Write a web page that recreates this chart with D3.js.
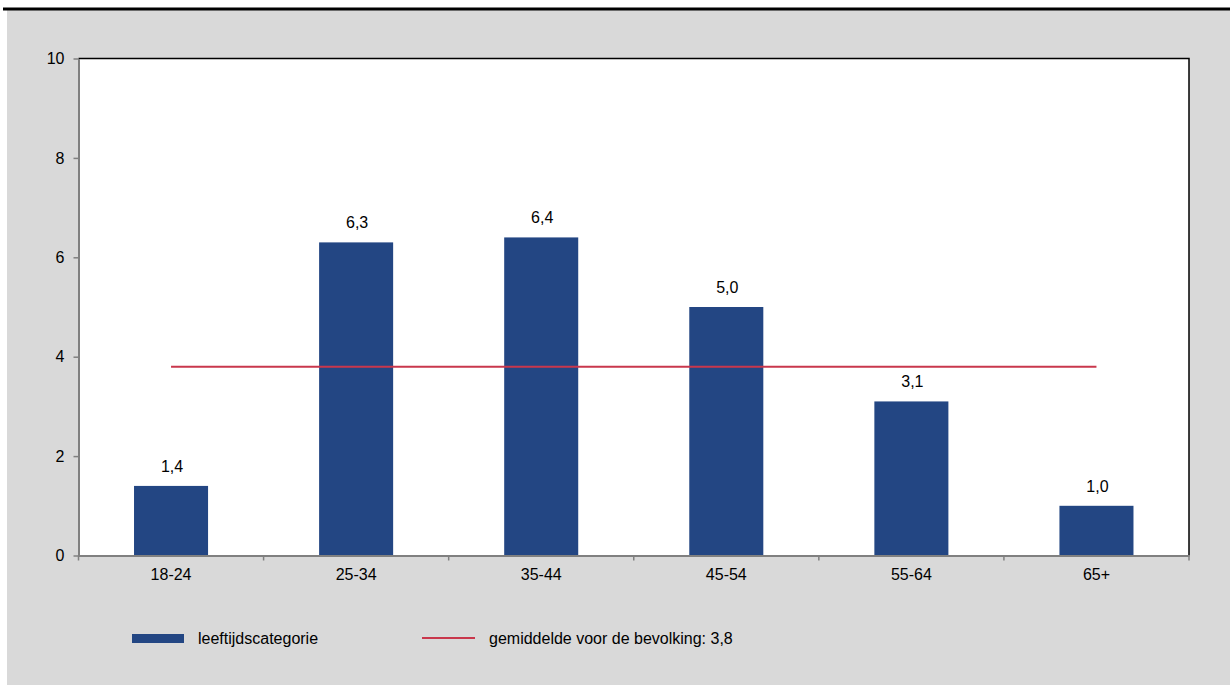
<!DOCTYPE html>
<html><head><meta charset="utf-8">
<script src="https://cdn.jsdelivr.net/npm/d3@7"></script>
<style>body{margin:0;background:#fff;}svg{display:block;font-family:"Liberation Sans",Arial,sans-serif;}</style>
</head><body><svg id="c" width="1230" height="685"></svg>
<script>
const categories = ["18-24","25-34","35-44","45-54","55-64","65+"];
const values = [1.4,6.3,6.4,5.0,3.1,1.0];
const average = 3.8;
const yTicks = [0,2,4,6,8,10];
const legendBar = "leeftijdscategorie";
const legendLine = "gemiddelde voor de bevolking: 3,8";

const FS = 16;
const svg = d3.select("#c");
svg.append("rect").attr("x",7).attr("y",10).attr("width",1223).attr("height",675).attr("fill","#d9d9d9");
svg.append("rect").attr("x",3).attr("y",7.5).attr("width",1227).attr("height",3).attr("fill","#000");

const L=78.5,R=1189,T=58.5,B=555.5;
const x = d3.scaleBand().domain(categories).range([L,R]).paddingInner(0).paddingOuter(0);
const y = d3.scaleLinear().domain([0,10]).range([B,T]);
const fmt = v => d3.format(".1f")(v).replace(".",",");

svg.append("rect").attr("x",L).attr("y",T).attr("width",R-L).attr("height",B-T).attr("fill","#fff");
svg.append("path").attr("d",`M${L},${T}H${R}V${B}`).attr("fill","none").attr("stroke","#000").attr("stroke-width",1.5);

const bw = x.bandwidth()*0.4;
svg.selectAll("rect.bar").data(values).enter().append("rect").attr("class","bar")
  .attr("x",(d,i)=>x(categories[i])+x.bandwidth()/2-bw/2)
  .attr("y",d=>y(d)).attr("width",bw).attr("height",d=>B-y(d))
  .attr("fill","#234683");

svg.selectAll("text.val").data(values).enter().append("text").attr("class","val")
  .attr("x",(d,i)=>x(categories[i])+x.bandwidth()/2+1)
  .attr("y",d=>y(d)-14).attr("text-anchor","middle").attr("font-size",FS).attr("fill","#000")
  .text(fmt);

svg.append("line")
  .attr("x1",x(categories[0])+x.bandwidth()/2).attr("x2",x(categories[categories.length-1])+x.bandwidth()/2)
  .attr("y1",y(average)).attr("y2",y(average)).attr("stroke","#c9374c").attr("stroke-width",2);

const ya = svg.append("g").attr("transform",`translate(${L},0)`)
  .call(d3.axisLeft(y).tickValues(yTicks).tickSize(5).tickSizeOuter(0).tickPadding(9).tickFormat(d3.format("d")));
ya.select(".domain").attr("stroke","#808080").attr("stroke-width",2);
ya.selectAll(".tick line").attr("stroke","#808080").attr("stroke-width",1.5);
ya.selectAll("text").attr("font-size",FS).attr("fill","#000").attr("font-family","Liberation Sans, Arial, sans-serif");

const xa = svg.append("g").attr("transform",`translate(0,${B})`)
  .call(d3.axisBottom(x).tickSize(0).tickPadding(13));
xa.select(".domain").attr("stroke","#808080").attr("stroke-width",2);
xa.selectAll("text").attr("font-size",FS).attr("fill","#000").attr("font-family","Liberation Sans, Arial, sans-serif");
const bounds = categories.map(c=>x(c)).concat([R]);
svg.selectAll("line.xt").data(bounds).enter().append("line").attr("class","xt")
  .attr("x1",d=>d).attr("x2",d=>d).attr("y1",B).attr("y2",B+5).attr("stroke","#808080").attr("stroke-width",1.5);

svg.append("rect").attr("x",132).attr("y",634).attr("width",52).attr("height",9).attr("fill","#234683");
svg.append("text").attr("x",198).attr("y",644).attr("font-size",FS).attr("fill","#000").text(legendBar);
svg.append("line").attr("x1",422).attr("x2",475).attr("y1",638).attr("y2",638).attr("stroke","#c9374c").attr("stroke-width",2);
svg.append("text").attr("x",489).attr("y",644).attr("font-size",FS).attr("fill","#000").text(legendLine);
</script></body></html>
